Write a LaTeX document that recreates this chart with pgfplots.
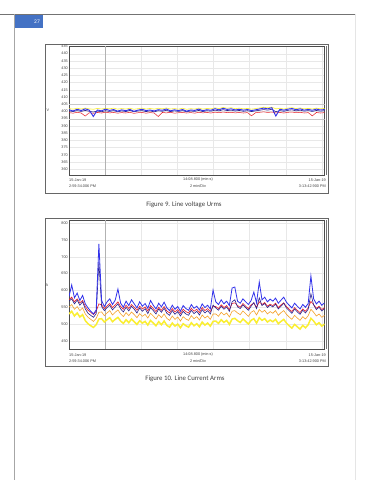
\documentclass[border=0pt]{standalone}
\usepackage{pgfplots}
\usepackage{pgfplotstable}
\pgfplotsset{compat=1.18}
\usepackage{fontspec}
\setmainfont{Liberation Sans}
\newfontfamily\capfont{Carlito}
\newcommand\tk{\fontsize{3.8}{4.2}\selectfont}
\definecolor{pgblue}{RGB}{68,114,196}
\definecolor{cblue}{RGB}{50,50,235}
\definecolor{cnavy}{RGB}{40,30,140}
\definecolor{cred}{RGB}{230,30,40}
\definecolor{corange}{RGB}{245,160,40}
\definecolor{cyellow}{RGB}{250,238,50}

\pgfplotstableread{
b n r y
401.2 400.4 399.2 402.0
400.3 399.9 398.8 401.6
401.5 400.6 399.4 402.2
400.6 400.0 398.9 401.7
401.8 400.7 396.8 402.3
400.9 400.1 399.1 401.8
396.5 399.6 398.7 401.5
401.0 400.3 399.3 402.1
400.4 399.8 398.9 401.7
401.6 400.5 399.5 402.2
400.7 400.0 399.0 401.8
401.3 400.6 399.3 402.3
400.2 399.7 398.8 401.6
401.1 400.4 399.2 402.0
400.5 399.9 398.9 401.7
401.4 400.7 399.4 402.2
400.1 399.8 398.7 401.5
400.9 400.3 399.1 401.9
401.5 400.6 399.3 402.3
400.6 399.9 398.8 401.7
401.0 400.4 399.2 402.1
400.3 399.7 398.9 401.6
401.2 400.5 396.5 402.2
400.8 400.1 399.3 401.8
401.7 400.8 399.0 402.4
400.4 399.9 399.4 401.7
401.1 400.4 398.8 402.0
400.6 400.0 399.1 401.6
401.3 400.6 399.3 402.2
400.2 399.8 398.9 401.5
401.0 400.3 399.2 401.9
400.7 400.0 398.8 401.7
401.6 400.7 399.4 402.3
400.5 399.9 399.0 401.6
401.2 400.5 399.3 402.1
400.8 400.2 398.9 401.8
401.9 400.9 399.5 402.5
401.1 400.4 399.1 402.0
402.2 401.2 399.6 402.8
401.4 400.6 399.2 402.2
401.8 400.9 399.4 402.6
401.0 400.3 399.0 401.9
401.5 400.7 399.3 402.3
400.9 400.1 398.9 401.8
401.3 400.5 399.2 402.1
400.6 399.9 397.0 401.6
401.1 400.4 399.1 402.0
401.7 400.8 399.4 402.4
402.3 401.3 399.7 402.9
401.8 400.9 399.3 402.5
402.6 401.5 399.6 403.0
396.8 399.8 399.0 401.8
401.5 400.6 399.3 402.2
400.9 400.1 398.9 401.7
401.6 400.8 399.4 402.3
402.0 401.1 399.6 402.6
401.2 400.4 399.1 402.0
401.8 400.9 399.4 402.4
400.9 400.2 398.9 401.8
401.4 400.6 399.2 402.1
400.8 400.0 396.9 401.7
401.6 400.7 399.3 402.3
401.0 400.2 398.9 401.8
401.3 400.5 399.2 402.1
}\tabU

\pgfplotstableread{
b n r o y
582 568 572 550 530
616 575 580 558 538
578 560 566 544 524
592 571 575 552 533
570 556 563 540 521
585 566 570 548 528
560 545 552 530 510
548 532 541 520 501
538 526 535 514 495
530 520 528 508 490
542 531 538 517 498
738 684 560 535 515
570 552 557 536 516
552 540 546 525 506
566 549 554 533 513
575 556 561 540 519
558 542 549 527 507
571 551 557 535 514
604 560 566 542 520
562 545 552 530 509
550 536 544 522 502
568 550 556 534 513
555 539 546 525 504
572 553 558 536 515
560 544 550 528 507
548 533 541 519 499
566 548 553 531 510
553 538 545 523 503
561 546 551 529 508
547 531 539 518 497
570 549 555 532 511
556 540 546 524 503
545 530 537 515 495
562 545 550 528 507
551 535 541 519 498
565 547 552 530 509
548 532 539 517 496
540 526 533 511 491
556 540 546 524 503
544 529 536 514 494
552 537 543 521 500
538 524 531 509 489
555 538 544 522 501
546 530 537 515 495
541 526 533 511 491
558 541 547 525 504
547 531 538 516 495
553 538 544 522 501
542 527 534 512 492
560 543 549 527 506
549 533 540 518 497
556 540 546 524 503
545 530 537 514 494
601 556 553 530 508
566 548 552 530 509
558 541 546 523 502
572 553 557 535 513
560 544 549 527 505
568 551 555 533 511
555 538 543 521 499
607 566 561 538 515
610 572 563 540 517
568 551 555 533 510
562 546 550 528 505
575 557 561 539 515
566 549 553 531 508
558 541 546 523 500
570 553 557 535 511
595 564 562 540 516
563 546 550 527 503
625 578 566 543 519
572 555 558 535 511
580 561 564 541 516
566 549 553 530 506
574 556 559 537 512
568 551 555 532 507
577 559 562 540 514
562 545 549 526 501
571 553 557 534 508
580 562 563 540 514
565 548 552 529 503
556 540 544 521 495
548 532 537 514 488
562 545 549 526 499
553 536 541 518 492
545 529 534 511 485
558 541 545 522 496
550 533 538 515 489
561 544 548 525 498
643 590 567 544 517
575 557 558 535 509
560 543 547 524 498
568 550 553 530 504
556 539 543 520 494
563 546 549 526 500
}\tabI

\pgfplotsset{
  scopechart/.style={
    anchor=south west, scale only axis,
    width=255.5pt, height=129pt,
    xmin=0, xmax=14.15,
    xtick={2,4,...,14}, xticklabels={},
    grid=major,
    major grid style={draw=black!9, line width=0.3pt},
    tick style={draw=none},
    axis line style={draw=black!70, line width=0.5pt},
    yticklabel style={font=\tk, text=black!75, inner sep=1pt},
    /pgf/number format/assume math mode=true,
    clip=true,
  }
}

\begin{document}
\begin{tikzpicture}
\useasboundingbox (0pt,0pt) rectangle (370pt,480pt);
\fill[white] (0pt,0pt) rectangle (370pt,480pt);

% page header
\fill[pgblue] (15pt,452pt) rectangle (43pt,465pt);
\node[anchor=east, text=white, font=\capfont\fontsize{5.5}{6}\selectfont, inner sep=0pt] at (40pt,458.5pt) {27};
\draw[black!55, line width=0.6pt] (0pt,466pt) -- (355pt,466pt);
\draw[black!35, line width=0.4pt] (14pt,466pt) -- (14pt,0pt);
\draw[black!10, line width=0.5pt] (355pt,466pt) -- (355pt,0pt);

% ---------- chart 1 ----------
\draw[black!60, line width=0.6pt] (45pt,287pt) rectangle (328pt,436pt);
\draw[black!55, line width=0.4pt] (326.5pt,305pt) -- (326.5pt,434pt);
\begin{axis}[scopechart, at={(69pt,305pt)},
  ymin=356, ymax=445.3, ytick={360,365,...,445}]
\draw[black!30, line width=0.4pt] (axis cs:2,356) -- (axis cs:2,445.3);
\draw[black!22, line width=0.3pt] (axis cs:0,405) -- (axis cs:14.15,405);
\draw[black!22, line width=0.3pt] (axis cs:0,395) -- (axis cs:14.15,395);
\addplot[cyellow, line width=0.6pt] table[x expr=\coordindex*0.2246, y=y]{\tabU};
\addplot[cred, line width=0.5pt] table[x expr=\coordindex*0.2246, y=r]{\tabU};
\addplot[cnavy, line width=0.6pt] table[x expr=\coordindex*0.2246, y=n]{\tabU};
\addplot[cblue, line width=0.9pt] table[x expr=\coordindex*0.2246, y=b]{\tabU};
\end{axis}
\node[font=\tk, text=black!75] at (48pt,370pt) {V};
\node[anchor=west, font=\tk, text=black!75, inner sep=0pt] at (69pt,300pt) {15-Jan-19};
\node[anchor=west, font=\tk, text=black!75, inner sep=0pt] at (69pt,294pt) {2:59:34.006 PM};
\node[font=\tk, text=black!75, inner sep=0pt] at (198pt,300pt) {14:08.800 (min:s)};
\node[font=\tk, text=black!75, inner sep=0pt] at (198pt,294pt) {2 min/Div};
\node[anchor=east, font=\tk, text=black!75, inner sep=0pt] at (326pt,300pt) {15-Jan-19};
\node[anchor=east, font=\tk, text=black!75, inner sep=0pt] at (326pt,294pt) {3:13:42.900 PM};
\node[font=\capfont\fontsize{6.8}{8}\selectfont, text=black!75] at (184pt,275pt) {Figure 9. Line voltage Urms};

% ---------- chart 2 ----------
\draw[black!60, line width=0.6pt] (45pt,114pt) rectangle (328pt,262pt);
\draw[black!55, line width=0.4pt] (326.5pt,131pt) -- (326.5pt,260pt);
\begin{axis}[scopechart, at={(69pt,131pt)},
  ymin=426, ymax=809, ytick={450,500,...,800}]
\draw[black!30, line width=0.4pt] (axis cs:2,426) -- (axis cs:2,809);
\addplot[cyellow, line width=1.5pt] table[x expr=\coordindex*0.15053, y=y]{\tabI};
\addplot[corange, line width=0.6pt] table[x expr=\coordindex*0.15053, y=o]{\tabI};
\addplot[cred, line width=0.6pt] table[x expr=\coordindex*0.15053, y=r]{\tabI};
\addplot[cnavy, line width=0.6pt] table[x expr=\coordindex*0.15053, y=n]{\tabI};
\addplot[cblue, line width=0.8pt] table[x expr=\coordindex*0.15053, y=b]{\tabI};
\end{axis}
\node[font=\tk, text=black!75] at (47pt,195pt) {A};
\node[anchor=west, font=\tk, text=black!75, inner sep=0pt] at (69pt,125pt) {15-Jan-19};
\node[anchor=west, font=\tk, text=black!75, inner sep=0pt] at (69pt,119pt) {2:59:34.006 PM};
\node[font=\tk, text=black!75, inner sep=0pt] at (198pt,125pt) {14:08.800 (min:s)};
\node[font=\tk, text=black!75, inner sep=0pt] at (198pt,119pt) {2 min/Div};
\node[anchor=east, font=\tk, text=black!75, inner sep=0pt] at (326pt,125pt) {15-Jan-19};
\node[anchor=east, font=\tk, text=black!75, inner sep=0pt] at (326pt,119pt) {3:13:42.900 PM};
\node[font=\capfont\fontsize{6.8}{8}\selectfont, text=black!75] at (185pt,101pt) {Figure 10. Line Current Arms};
\end{tikzpicture}
\end{document}
